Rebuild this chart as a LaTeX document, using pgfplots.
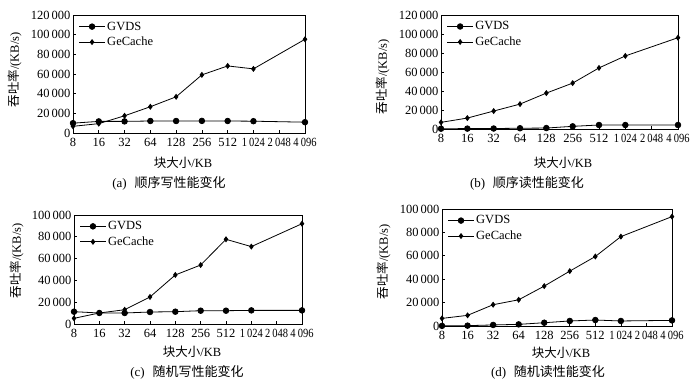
\documentclass[border=0pt]{standalone}
\usepackage{graphicx}
\usepackage{pgfplots}
\pgfplotsset{compat=1.18}
\usepackage{fontspec}
\setmainfont{Liberation Serif}
\newfontfamily\cjk{Noto Sans CJK SC}
\newcommand{\nx}[2]{\scalebox{0.84}[1]{#1\hspace{0.2em}#2}}
\pgfplotsset{
  panel/.style={
    scale only axis,
    xmin=0, xmax=9, ymin=0,
    xtick={0,...,9},
    xticklabels={8,16,32,64,128,256,512,\nx{1}{024},\nx{2}{048},\nx{4}{096}},
    tick align=inside, tick pos=left,
    major tick length=3pt,
    ytick distance=20000,
    scaled y ticks=false,
    axis line style={line width=0.7pt},
    every tick/.style={line width=0.6pt, black},
    ticklabel style={font=\fontsize{12.5}{14}\selectfont},
    xticklabel style={yshift=-2pt, inner xsep=0pt},
    yticklabel style={xshift=1pt, /pgf/number format/.cd, fixed, precision=0, 1000 sep={\,}, assume math mode=true},
    legend style={draw=none, fill=none, at={(0.02,0.97)}, anchor=north west,
      font=\fontsize{12.5}{14}\selectfont, row sep=1.5pt, inner sep=1pt},
    legend cell align=left,
    legend image code/.code={
      \draw[mark repeat=2,mark phase=2] plot coordinates {(0cm,0cm) (0.45cm,0cm) (0.9cm,0cm)};},
  },
  gv/.style={black, line width=0.8pt, mark=*, mark size=2.8pt},
  gc/.style={black, line width=0.8pt, mark=diamond*, mark size=2.4pt},
}
\begin{document}
\begin{tikzpicture}
\useasboundingbox (0pt,0pt) rectangle (700pt,385pt);
% (a)
\begin{axis}[panel, at={(73pt,252pt)}, anchor=south west, width=232pt, height=118pt, ymax=120000]
\addplot[gv] coordinates {(0,10000) (1,11800) (2,11800) (3,12200) (4,12200) (5,12300) (6,12200) (7,12000) (9,11000)};
\addlegendentry{GVDS}
\addplot[gc] coordinates {(0,6800) (1,9500) (2,17500) (3,26700) (4,36800) (5,59100) (6,68200) (7,65200) (9,95300)};
\addlegendentry{GeCache}
\end{axis}
% (b)
\begin{axis}[panel, at={(441pt,256pt)}, anchor=south west, width=237pt, height=114pt, ymax=120000]
\addplot[gv] coordinates {(0,300) (1,400) (2,500) (3,800) (4,1000) (5,2800) (6,4200) (7,4200) (9,4200)};
\addlegendentry{GVDS}
\addplot[gc] coordinates {(0,7000) (1,11500) (2,18900) (3,26200) (4,37800) (5,48300) (6,64300) (7,76900) (9,96100)};
\addlegendentry{GeCache}
\end{axis}
% (c)
\begin{axis}[panel, at={(74pt,61pt)}, anchor=south west, width=228pt, height=109pt, ymax=100000]
\addplot[gv] coordinates {(0,11300) (1,10100) (2,10100) (3,11000) (4,11300) (5,12200) (6,12200) (7,12500) (9,12500)};
\addlegendentry{GVDS}
\addplot[gc] coordinates {(0,5200) (1,10100) (2,13100) (3,24800) (4,45000) (5,54100) (6,77700) (7,71000) (9,92000)};
\addlegendentry{GeCache}
\end{axis}
% (d)
\begin{axis}[panel, at={(442pt,59pt)}, anchor=south west, width=230pt, height=117pt, ymax=100000]
\addplot[gv] coordinates {(0,100) (1,300) (2,900) (3,1400) (4,2800) (5,4300) (6,5100) (7,4300) (9,4800)};
\addlegendentry{GVDS}
\addplot[gc] coordinates {(0,6500) (1,9100) (2,18200) (3,22400) (4,34100) (5,46900) (6,59400) (7,76400) (9,93500)};
\addlegendentry{GeCache}
\end{axis}
% labels
\tikzset{lab/.style={font=\fontsize{12.5}{14}\selectfont, inner sep=0pt},
         capt/.style={font=\fontsize{13}{15}\selectfont, inner sep=0pt}}
\node[lab, rotate=90] at (15pt,315pt) {{\cjk 吞吐率}/(KB/s)};
\node[lab, rotate=90] at (383pt,308pt) {{\cjk 吞吐率}/(KB/s)};
\node[lab, rotate=90] at (17pt,124pt) {{\cjk 吞吐率}/(KB/s)};
\node[lab, rotate=90] at (384pt,123pt) {{\cjk 吞吐率}/(KB/s)};
\node[lab] at (183pt,222pt) {{\cjk 块大小}/KB};
\node[lab] at (563pt,222pt) {{\cjk 块大小}/KB};
\node[lab] at (192pt,33pt) {{\cjk 块大小}/KB};
\node[lab] at (561pt,32pt) {{\cjk 块大小}/KB};
\node[capt] at (169pt,202pt) {(a)\hspace{0.6em}{\cjk 顺序写性能变化}};
\node[capt] at (527pt,202pt) {(b)\hspace{0.6em}{\cjk 顺序读性能变化}};
\node[capt] at (187pt,13pt) {(c)\hspace{0.6em}{\cjk 随机写性能变化}};
\node[capt] at (548pt,13pt) {(d)\hspace{0.6em}{\cjk 随机读性能变化}};
\end{tikzpicture}
\end{document}
